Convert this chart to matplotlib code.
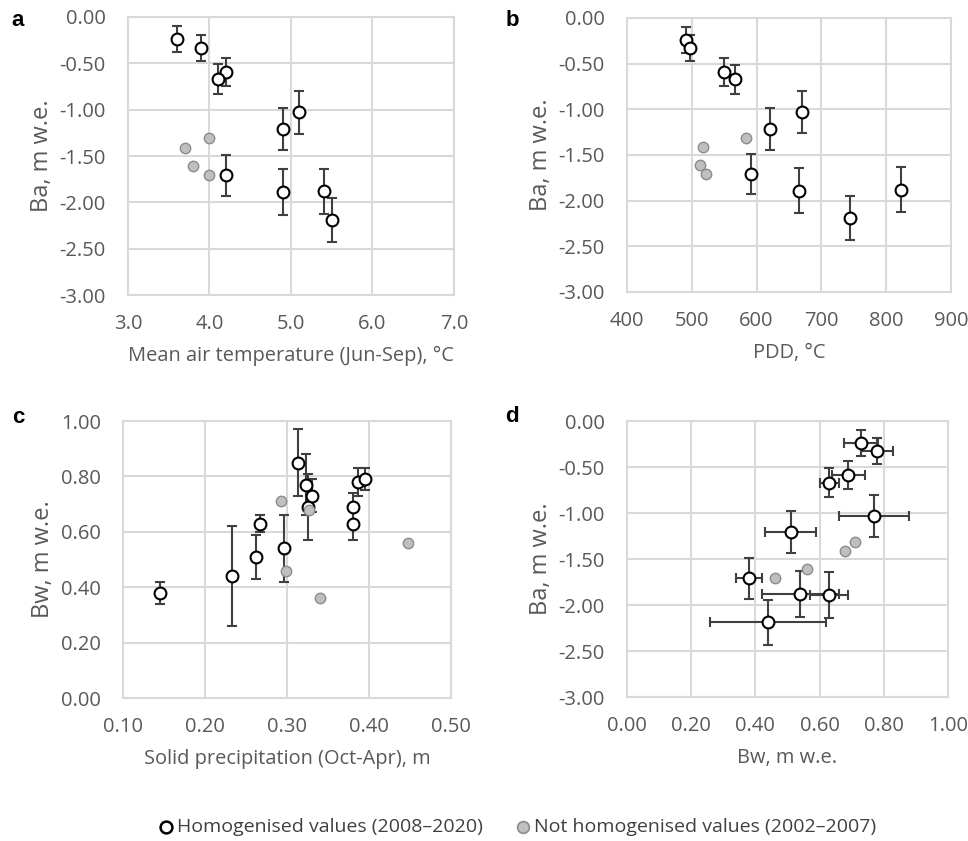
import matplotlib
matplotlib.use("Agg")
import matplotlib.pyplot as plt
from matplotlib.lines import Line2D
import numpy as np

plt.rcParams["font.family"] = ["Open Sans", "DejaVu Sans"]

# Homogenised values (2008-2020), panels a, b, d
ba = [-0.24, -0.33, -0.59, -0.67, -1.03, -1.21, -1.71, -1.88, -1.89, -2.19]
ba_err = [0.14, 0.14, 0.15, 0.16, 0.23, 0.23, 0.22, 0.245, 0.25, 0.24]
temp = [3.6, 3.9, 4.2, 4.1, 5.1, 4.9, 4.2, 5.4, 4.9, 5.5]
pdd = [491, 497, 550, 567, 670, 621, 591, 823, 665, 744]
bw_d = [0.73, 0.78, 0.69, 0.63, 0.77, 0.51, 0.38, 0.54, 0.63, 0.44]
bw_d_err = [0.053, 0.05, 0.05, 0.03, 0.11, 0.08, 0.04, 0.12, 0.06, 0.18]

# Not homogenised values (2002-2007), panels a, b, d
ba_ng = [-1.41, -1.61, -1.31, -1.71]
temp_ng = [3.7, 3.8, 4.0, 4.0]
pdd_ng = [517, 513, 584, 522]
bw_d_ng = [0.68, 0.56, 0.71, 0.46]

# Panel c
precip = [0.145, 0.233, 0.262, 0.267, 0.296, 0.314, 0.323, 0.326, 0.330, 0.381, 0.381, 0.387, 0.395]
bw = [0.38, 0.44, 0.51, 0.63, 0.54, 0.85, 0.77, 0.69, 0.73, 0.69, 0.63, 0.78, 0.79]
bw_err = [0.04, 0.18, 0.08, 0.03, 0.12, 0.12, 0.11, 0.12, 0.06, 0.05, 0.06, 0.05, 0.04]
precip_ng = [0.293, 0.299, 0.327, 0.340, 0.448]
bw_ng = [0.71, 0.46, 0.68, 0.36, 0.56]

legend_labels = ["Homogenised values (2008\u20132020)", "Not homogenised values (2002\u20132007)"]

GRID = "#D9D9D9"
TXT = "#595959"
ERR = "#404040"


def style_axes(ax, xlim, xticks, xfmt, ylim, yticks, xlabel, ylabel):
    ax.set_xlim(*xlim)
    ax.set_ylim(*ylim)
    ax.set_xticks(xticks)
    ax.set_yticks(yticks)
    ax.set_xticklabels([xfmt.format(v) for v in xticks])
    ax.set_yticklabels(["0.00" if v == 0 else "{:.2f}".format(v) for v in yticks])
    ax.grid(True, color=GRID, linewidth=1.5, zorder=0)
    ax.set_axisbelow(True)
    for s in ax.spines.values():
        s.set_color(GRID)
        s.set_linewidth(1.5)
    ax.tick_params(length=0, labelsize=14.5, labelcolor=TXT)
    ax.tick_params(axis="x", pad=14)
    ax.tick_params(axis="y", pad=16)
    ax.set_xlabel(xlabel, fontsize=14.4, color=TXT, labelpad=8)
    ax.set_ylabel(ylabel, fontsize=17, color=TXT, labelpad=4)


def draw(ax, x, y, xerr, yerr, xg, yg):
    ax.errorbar(x, y, xerr=xerr, yerr=yerr, fmt="o", ms=8.5, mfc="white",
                mec="black", mew=1.5, ecolor=ERR, elinewidth=1.5,
                capsize=3.5, capthick=1.5, zorder=3)
    ax.plot(xg, yg, "o", ms=7.5, mfc="#BFBFBF", mec="#8C8C8C", mew=1.0,
            linestyle="none", zorder=4)


fig = plt.figure(figsize=(9.68, 8.41), dpi=100)

ba_ticks = [0, -0.5, -1.0, -1.5, -2.0, -2.5, -3.0]

ax_a = fig.add_axes([0.1322, 0.6492, 0.3368, 0.3306])
draw(ax_a, temp, ba, None, ba_err, temp_ng, ba_ng)
style_axes(ax_a, (3, 7), [3, 4, 5, 6, 7], "{:.1f}", (-3, 0), ba_ticks,
           "Mean air temperature (Jun-Sep), °C", "Ba, m w.e.")

ax_b = fig.add_axes([0.6477, 0.6528, 0.3347, 0.3258])
draw(ax_b, pdd, ba, None, ba_err, pdd_ng, ba_ng)
style_axes(ax_b, (400, 900), [400, 500, 600, 700, 800, 900], "{:.0f}", (-3, 0),
           ba_ticks, "PDD, °C", "Ba, m w.e.")

ax_c = fig.add_axes([0.1271, 0.1700, 0.3388, 0.3294])
draw(ax_c, precip, bw, None, bw_err, precip_ng, bw_ng)
style_axes(ax_c, (0.1, 0.5), [0.1, 0.2, 0.3, 0.4, 0.5], "{:.2f}", (0, 1),
           [0, 0.2, 0.4, 0.6, 0.8, 1.0],
           "Solid precipitation (Oct-Apr), m", "Bw, m w.e.")

ax_d = fig.add_axes([0.6477, 0.1712, 0.3316, 0.3282])
draw(ax_d, bw_d, ba, bw_d_err, ba_err, bw_d_ng, ba_ng)
style_axes(ax_d, (0, 1), [0, 0.2, 0.4, 0.6, 0.8, 1.0], "{:.2f}", (-3, 0),
           ba_ticks, "Bw, m w.e.", "Ba, m w.e.")

for lab, (px, py) in zip("abcd", [(18, 21), (512, 21), (18, 417), (512, 416)]):
    fig.text(px / 968, 1 - py / 841, lab, fontsize=16, fontweight="bold",
             family=["Liberation Sans", "DejaVu Sans"], ha="center", va="center")

# legend drawn by hand so both entries sit where they do in the original
leg_y = 1 - 827 / 841
markers = [dict(mfc="white", mec="black", mew=1.8),
           dict(mfc="#BFBFBF", mec="#8C8C8C", mew=1.2)]
for (mx, tx), lab, st in zip([(166, 177), (523, 534)], legend_labels, markers):
    fig.add_artist(Line2D([mx / 968], [leg_y], marker="o", ms=8.5, ls="none",
                          transform=fig.transFigure, **st))
    fig.text(tx / 968, leg_y, lab, fontsize=14, color="#404040", ha="left", va="center")

fig.savefig("out.png", dpi=100)
